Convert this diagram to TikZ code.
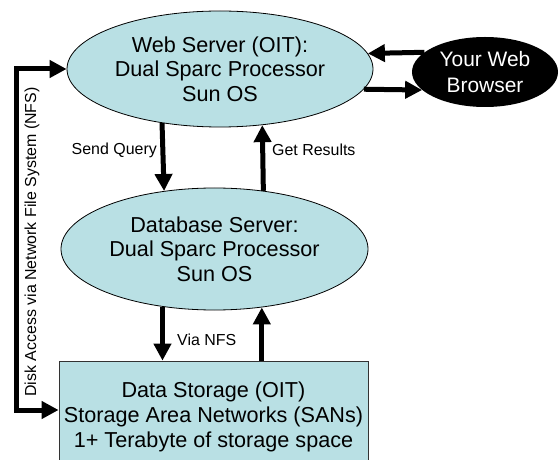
\documentclass[tikz,border=0pt]{standalone}
\usepackage{fontspec}
\setmainfont{Liberation Sans}
\usetikzlibrary{shapes.geometric,arrows.meta,positioning}
\definecolor{serverblue}{RGB}{185,224,228}

\begin{document}
\begin{tikzpicture}[x=1bp,y=-1bp]
	% `server' is used for the two Sun machines, `store' for the SAN box.
	% `link' is used for the thick black arrows.
	\tikzstyle{server} = [draw,fill=serverblue,shape=ellipse,line width=0.8bp,inner sep=0pt,align=center,font=\fontsize{21.7}{24.5}\selectfont]
	\tikzstyle{store} = [draw=black!80,fill=serverblue,line width=0.8bp,inner sep=0pt,align=center,font=\fontsize{21.7}{25}\selectfont]
	\tikzstyle{client} = [fill=black,text=white,shape=ellipse,inner sep=0pt,align=center,font=\fontsize{21}{26}\selectfont]
	\tikzstyle{link} = [line width=5bp,-{Triangle[width=17bp,length=17bp]}]
	\tikzstyle{twoway} = [line width=5bp,{Triangle[width=17bp,length=17bp]}-{Triangle[width=17bp,length=17bp]}]
	\tikzstyle{note} = [inner sep=0pt,font=\fontsize{16}{19}\selectfont]
	%
	\useasboundingbox (0,0) rectangle (559,460);
	% Machines.
	\node[server,minimum width=306bp,minimum height=116bp] (web) at (220,69) {Web Server (OIT):\\Dual Sparc Processor\\Sun OS};
	\node[server,minimum width=307bp,minimum height=122bp] (db) at (214.5,249) {Database Server:\\Dual Sparc Processor\\Sun OS};
	\node[store,minimum width=309bp,minimum height=112bp] (san) at (213.5,417) {Data Storage (OIT)\\Storage Area Networks (SANs)\\1+ Terabyte of storage space};
	\node[client,minimum width=146bp,minimum height=70bp] (browser) at (485,72) {Your Web\\Browser};
	% Request and reply between browser and web server.
	\draw[link] (browser.162.8) -- (web.6.2);
	\draw[link] (web.-8.4) -- (browser.196);
	% Query path.
	\draw[link] (web.223.35) -- (db.131.85);
	\draw[link] (db.50.05) -- (web.307.67);
	\draw[link] (db.228.15) -- (san.north -| db.228.15);
	\draw[link] (san.north -| db.309.95) -- (db.309.95);
	% NFS bracket on the left.
	\coordinate (nfstop) at (16,69);
	\coordinate (nfsbot) at (16,410);
	\draw[twoway] (nfsbot -| san.west) -- (nfsbot) -- (nfstop) -- (web.west);
	% Labels.
	\node[note,anchor=east] (query) at (157,150) {Send Query};
	\node[note,anchor=west] (results) at (272,150) {Get Results};
	\node[note,anchor=west] (vianfs) at (177,340) {Via NFS};
	\node[note,rotate=90] (nfs) at (32,242) {Disk Access via Network File System (NFS)};
\end{tikzpicture}
\end{document}
